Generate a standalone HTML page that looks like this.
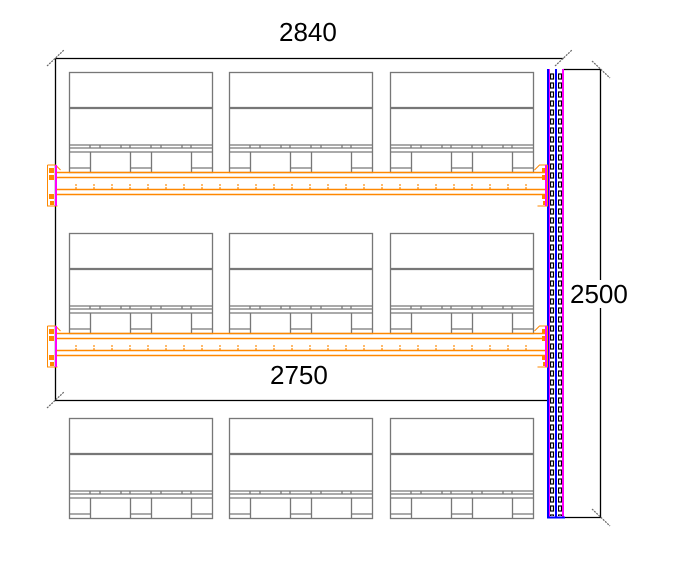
<!DOCTYPE html>
<html><head><meta charset="utf-8"><style>
html,body{margin:0;padding:0;background:#fff;width:679px;height:568px;overflow:hidden}
text{font-family:"Liberation Sans",sans-serif;font-size:26px;fill:#000}
</style></head><body>
<svg width="679" height="568" viewBox="0 0 679 568" xmlns="http://www.w3.org/2000/svg">
<defs>
<g id="pal" fill="none" stroke="#777" stroke-width="1.3">
  <rect x="69.5" y="0.5" width="143" height="100"/>
  <line x1="69.5" y1="36" x2="212.5" y2="36" stroke-width="2.2"/>
  <line x1="69.5" y1="73" x2="212.5" y2="73"/>
  <line x1="69.5" y1="76" x2="212.5" y2="76"/>
  <line x1="69.5" y1="80" x2="212.5" y2="80"/>
  <path d="M90 73v3M100 73v3M121 73v3M130 73v3M151 73v3M161 73v3M182 73v3M191 73v3"/>
  <path d="M90.5 80v20M130.5 80v20M151.5 80v20M191.5 80v20M69.5 96h21M130.5 96h21M191.5 96h21"/>
</g>
<pattern id="holes" x="550" y="73" width="20" height="9" patternUnits="userSpaceOnUse">
  <rect x="0.5" y="1" width="3" height="5" fill="none" stroke="#000" stroke-width="1.2"/>
</pattern>
<pattern id="dots" x="0" y="0" width="18" height="10" patternUnits="userSpaceOnUse">
  <circle cx="4" cy="3" r="0.9" fill="#f80"/><circle cx="4" cy="6" r="0.9" fill="#f80"/>
</pattern>
<g id="beam">
  <g stroke="#f80" stroke-width="1.5" fill="none">
    <line x1="57" y1="0.5" x2="548" y2="0.5"/>
    <line x1="57" y1="5.5" x2="548" y2="5.5"/>
    <line x1="57" y1="17.5" x2="548" y2="17.5"/>
    <line x1="57" y1="22.5" x2="548" y2="22.5"/>
    <path d="M47.5 -7v41h10M47.5 -7h8l5 5" stroke-width="1"/>
    <path d="M547.5 -7v41h-10M547.5 -7h-8l-5 5" stroke-width="1"/>
  </g>
  <rect x="62" y="9" width="470" height="10" fill="url(#dots)"/>
  <g fill="#f80"><rect x="49" y="-4" width="5" height="5"/><rect x="49" y="3" width="5" height="5"/><rect x="49" y="22" width="5" height="5"/><rect x="50" y="29" width="4" height="4"/>
  <rect x="542" y="-4" width="5" height="5"/><rect x="542" y="3" width="5" height="5"/><rect x="542" y="22" width="5" height="5"/><rect x="543" y="29" width="4" height="4"/></g>
  <line x1="56" y1="-7" x2="56" y2="34" stroke="#f0f" stroke-width="2"/>
  <line x1="546" y1="-7" x2="546" y2="34" stroke="#f0f" stroke-width="2"/>
</g>
</defs>
<g stroke="#000" stroke-width="1.3" fill="none">
  <path d="M55.5 58.5H563.5"/>
  <path d="M55.5 58.5V400.5H548"/>
  <path d="M563.5 69.5H600.5V517.5H563"/>
</g>
<g stroke="#666" stroke-width="1.2" stroke-dasharray="2 1">
  <line x1="47" y1="66" x2="64" y2="50"/>
  <line x1="555" y1="66" x2="572" y2="50"/>
  <line x1="47" y1="408" x2="64" y2="392"/>
  <line x1="592" y1="61" x2="610" y2="78"/>
  <line x1="592" y1="509" x2="610" y2="526"/>
</g>
<g>
 <use href="#pal" x="0" y="72"/><use href="#pal" x="160" y="72"/><use href="#pal" x="321" y="72"/>
 <use href="#pal" x="0" y="233"/><use href="#pal" x="160" y="233"/><use href="#pal" x="321" y="233"/>
 <use href="#pal" x="0" y="418"/><use href="#pal" x="160" y="418"/><use href="#pal" x="321" y="418"/>
</g>
<rect x="550" y="73" width="5" height="443" fill="url(#holes)"/>
<rect x="550" y="73" width="5" height="443" fill="url(#holes)" transform="translate(8 0)"/>
<g stroke-width="2">
  <line x1="548" y1="69" x2="548" y2="518" stroke="#00f"/>
  <line x1="556" y1="69" x2="556" y2="518" stroke="#00f"/>
  <line x1="549.5" y1="69" x2="549.5" y2="518" stroke="#f0f" stroke-width="1"/>
  <line x1="563" y1="69" x2="563" y2="518" stroke="#f0f"/>
  <line x1="547" y1="517.5" x2="565" y2="517.5" stroke="#00f"/>
</g>
<use href="#beam" x="0" y="172"/>
<use href="#beam" x="0" y="333"/>
<text x="279" y="41">2840</text>
<text x="270" y="384">2750</text>
<rect x="570" y="280" width="64" height="28" fill="#fff"/>
<text x="570" y="303">2500</text>
</svg>
</body></html>
